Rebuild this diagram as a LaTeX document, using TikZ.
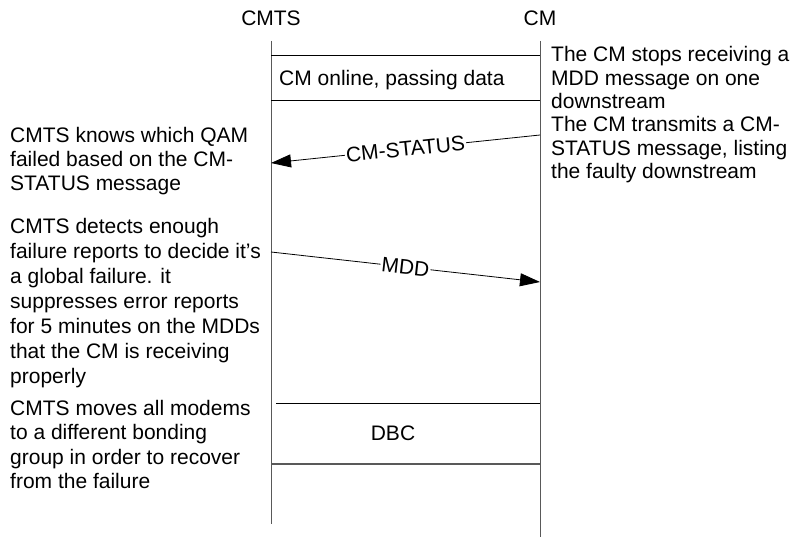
\documentclass[tikz,border=0pt]{standalone}
\usepackage{fontspec}
\setmainfont{Liberation Sans}
\usetikzlibrary{arrows.meta}

\begin{document}
\begin{tikzpicture}[x=1pt,y=-1pt,
    lifeline/.style={draw=black!65,line width=0.9pt},
    hline/.style={draw=black,line width=0.8pt},
    msg/.style={draw=black,line width=0.8pt,-{Triangle[length=20pt,width=13pt]}},
    txt/.style={font=\fontsize{21}{24.5}\selectfont,inner sep=0pt},
    note/.style={txt,align=left,anchor=base west},
    rnote/.style={note,font=\fontsize{21}{23.3}\selectfont},
    tag/.style={txt,sloped,fill=white,inner sep=1.2pt}]
  \useasboundingbox (0,0) rectangle (794,540);
  % entities and life lines
  \node[txt] (cmts) at (271,18) {CMTS};
  \node[txt] (cm) at (540,18) {CM};
  \coordinate (cmtsTop) at (271,41);
  \coordinate (cmtsBot) at (271,524);
  \coordinate (cmTop) at (540,41);
  \coordinate (cmBot) at (540,537);
  \draw[lifeline] (cmtsTop) -- (cmtsBot);
  \draw[lifeline] (cmTop) -- (cmBot);
  % CM online box
  \coordinate (onA) at (271,55);   \coordinate (onB) at (540,55);
  \coordinate (onC) at (271,100);  \coordinate (onD) at (540,100);
  \draw[hline] (onA) -- (onB);
  \draw[hline] (onC) -- (onD);
  \node[txt,anchor=base west] (online) at (279,86) {CM online, passing data};
  % messages
  \coordinate (stFrom) at (540,135);
  \coordinate (stTo) at (271,163);
  \draw[msg] (stFrom) -- node[tag] (status) {CM-STATUS} (stTo);
  \coordinate (mddFrom) at (271,252);
  \coordinate (mddTo) at (540,282);
  \draw[msg] (mddFrom) -- node[tag] (mdd) {MDD} (mddTo);
  % DBC box
  \coordinate (dbcA) at (276,403); \coordinate (dbcB) at (540,403);
  \coordinate (dbcC) at (271,464); \coordinate (dbcD) at (540,464);
  \draw[hline] (dbcA) -- (dbcB);
  \draw[lifeline,line width=1.3pt] (dbcC) -- (dbcD);
  \node[txt] (dbc) at (393,433) {DBC};
  % notes, right side (anchored on the last line)
  \node[rnote] (stop) at (551,108.6) {The CM stops receiving a\\MDD message on one\\downstream};
  \node[rnote] (send) at (551,178.6) {The CM transmits a CM-\\STATUS message, listing\\the faulty downstream};
  % notes, left side
  \node[note,font=\fontsize{21}{24}\selectfont] (knows) at (10,190.5) {CMTS knows which QAM\\failed based on the CM-\\STATUS message};
  \node[note,font=\fontsize{21}{25}\selectfont] (detect) at (10,383) {CMTS detects enough\\failure reports to decide it’s\\a global failure. it\\suppresses error reports\\for 5 minutes on the MDDs\\that the CM is receiving\\properly};
  \node[note] (moves) at (10,488.5) {CMTS moves all modems\\to a different bonding\\group in order to recover\\from the failure};
\end{tikzpicture}
\end{document}
